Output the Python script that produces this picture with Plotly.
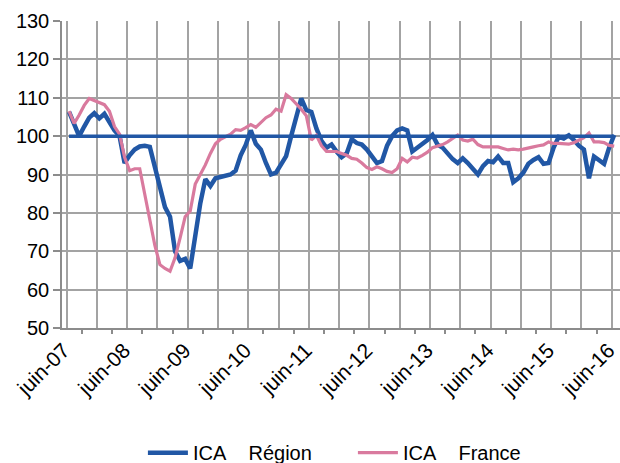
import plotly.graph_objects as go

tick_labels = ["juin-07", "juin-08", "juin-09", "juin-10", "juin-11",
               "juin-12", "juin-13", "juin-14", "juin-15", "juin-16"]

ica_region = [
    106.3, 103.0, 100.0, 102.5, 104.8, 106.0, 104.6, 105.8, 103.5, 101.5,
    100.0, 93.0, 95.0, 96.5, 97.3, 97.5, 97.2, 92.0, 87.5, 81.5,
    79.0, 70.0, 67.5, 68.0, 65.5, 75.0, 82.5, 88.8, 87.0, 89.0,
    89.3, 89.6, 90.0, 91.0, 95.0, 97.7, 101.5, 98.0, 96.5, 93.0,
    90.0, 90.5, 92.5, 94.8, 100.0, 105.0, 109.8, 106.8, 106.3, 102.0,
    98.8, 97.0, 97.8, 96.0, 94.5, 95.5, 99.2, 98.2, 97.8, 96.5,
    94.5, 93.0, 93.5, 97.5, 100.0, 101.5, 102.0, 101.5, 96.0, 97.0,
    97.7, 99.0, 100.3, 97.8, 97.0, 95.5, 94.0, 93.0, 94.2, 93.0,
    91.5, 90.0, 92.2, 93.5, 93.2, 94.7, 93.0, 93.0, 88.0, 89.0,
    90.5, 92.8, 93.8, 94.5, 92.8, 93.0, 97.0, 99.8, 99.4, 100.2,
    99.0, 97.5, 96.5, 89.0, 94.7, 93.8, 92.8, 97.0, 100.3,
]

ica_france = [
    106.5, 103.3, 105.5, 108.0, 109.8, 109.2, 108.7, 108.2, 106.5, 102.5,
    100.5, 94.5, 91.0, 91.5, 91.5, 85.0, 78.5, 71.5, 66.5, 65.5,
    64.8, 68.3, 73.5, 79.0, 80.5, 87.5, 90.0, 92.5, 95.5, 98.0,
    99.2, 99.8, 100.5, 101.7, 101.5, 102.2, 103.0, 102.3, 103.5, 104.8,
    105.5, 107.0, 106.5, 110.8, 109.8, 108.5, 107.0, 105.3, 99.0, 100.2,
    97.5, 96.0, 96.0, 96.0, 95.5, 95.0, 94.2, 94.0, 93.0, 91.8,
    91.3, 92.0, 91.5, 90.8, 90.5, 91.5, 94.2, 93.3, 94.5, 94.3,
    95.0, 95.8, 97.0, 97.3, 97.8, 98.5, 99.3, 100.3, 99.0, 98.7,
    99.2, 97.8, 97.2, 97.2, 97.2, 97.2, 96.8, 96.4, 96.6, 96.4,
    96.6, 97.0, 97.2, 97.5, 97.7, 98.5, 98.1, 98.1, 98.0, 97.9,
    98.3, 99.0, 99.6, 100.8, 98.5, 98.5, 98.3, 97.6, 97.4,
]

BASE_VALUE = 100
MONTHS_PER_LABEL = 12
LABEL_OFFSET = -1.1   # rotated labels end slightly left of their month

x = list(range(len(ica_region)))
label_pos = [p + LABEL_OFFSET for p in x[::MONTHS_PER_LABEL]]

BLUE = "#2157A5"
PINK = "#D97A9E"
GRID = "#A3A3A3"
AXIS = "#8C8C8C"
FONT = "Liberation Sans, Arial, sans-serif"

fig = go.Figure()

fig.add_shape(type="line", xref="x", yref="y",
              x0=x[0], x1=x[-1], y0=BASE_VALUE, y1=BASE_VALUE,
              line=dict(color=BLUE, width=3.5), layer="above")

fig.add_trace(go.Scatter(x=x, y=ica_region, mode="lines",
                         name="ICA\u00a0\u00a0\u00a0\u00a0Région",
                         line=dict(color=BLUE, width=4.5)))
fig.add_trace(go.Scatter(x=x, y=ica_france, mode="lines",
                         name="ICA\u00a0\u00a0\u00a0\u00a0France",
                         line=dict(color=PINK, width=3.2)))
# invisible helper trace carrying the small category tick marks axis
fig.add_trace(go.Scatter(x=[x[0]], y=[BASE_VALUE], xaxis="x2", mode="lines",
                         showlegend=False, hoverinfo="skip",
                         line=dict(width=0)))

xr = [-1.4, 109.15]
fig.update_layout(
    width=620, height=463,
    margin=dict(l=62, r=0, t=21, b=135, autoexpand=False),
    paper_bgcolor="white", plot_bgcolor="white",
    font=dict(family=FONT, size=20, color="#000000"),
    showlegend=True,
    legend=dict(orientation="h", x=0.145, xanchor="left",
                y=-0.406, yanchor="middle",
                font=dict(size=20), entrywidth=155, entrywidthmode="pixels",
                itemwidth=40, tracegroupgap=0),
    xaxis=dict(range=xr, tickmode="array", tickvals=label_pos,
               ticktext=tick_labels, tickangle=-45, showgrid=False,
               ticks="", ticklabelstandoff=0, ticklabeloverflow="allow",
               showline=True, linecolor=AXIS, linewidth=1.5,
               zeroline=False, tickfont=dict(size=21),
               minor=dict(tick0=-0.5, dtick=6, showgrid=True,
                          gridcolor=GRID, gridwidth=1.5, ticks="")),
    xaxis2=dict(range=xr, overlaying="x", side="bottom", tickmode="linear",
                tick0=2.5, dtick=6, ticks="outside", ticklen=5,
                tickcolor=AXIS, tickwidth=1.5, showticklabels=False,
                showgrid=False, zeroline=False, showline=False),
    yaxis=dict(range=[50, 130], dtick=10, showgrid=True, gridcolor=GRID,
               gridwidth=1.5, ticks="outside", ticklen=7,
               tickcolor=AXIS, tickwidth=1.5, showline=True,
               linecolor=AXIS, linewidth=1.5, zeroline=False,
               tickfont=dict(size=20)),
)

fig.write_html(
    "out.html",
    config={"displayModeBar": False},
    post_script="document.body.style.margin='0';"
                "document.body.style.overflow='hidden';",
)
